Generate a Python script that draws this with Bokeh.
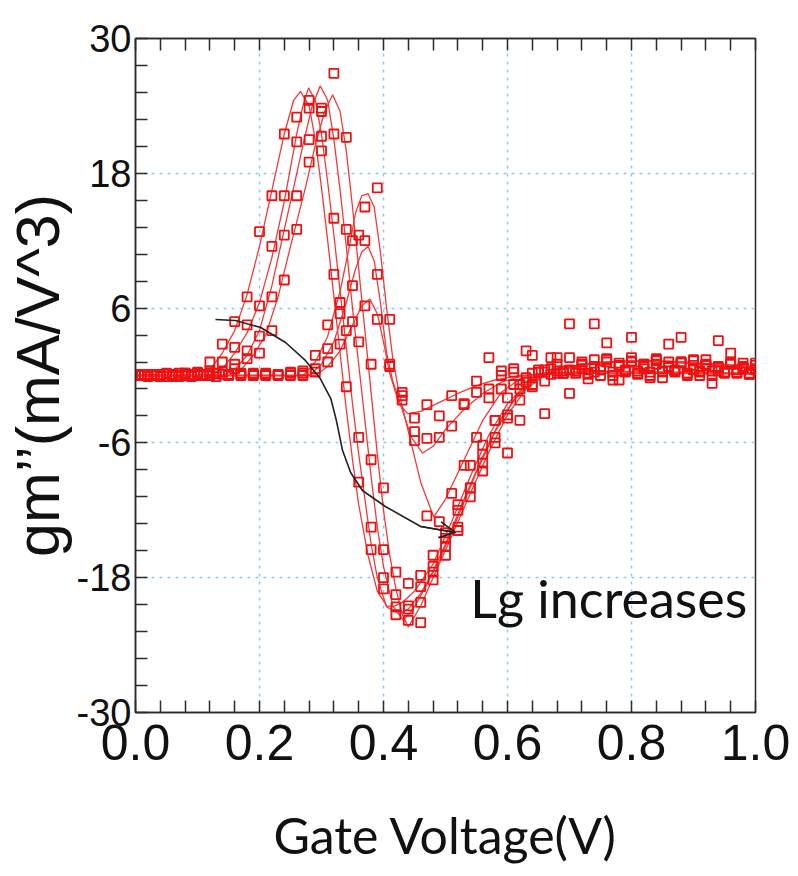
from bokeh.plotting import figure
from bokeh.models import FixedTicker, LinearAxis, PrintfTickFormatter, Arrow, OpenHead, Label
from bokeh.embed import file_html
from bokeh.resources import INLINE

# ---------------- axes / ticks ----------------
X_TICKS = [0.0, 0.2, 0.4, 0.6, 0.8, 1.0]
Y_TICKS = [-30, -18, -6, 6, 18, 30]
X_GRID = [0.2, 0.4, 0.6, 0.8]
Y_GRID = [-18, -6, 6, 18]
X_LABEL = "Gate Voltage(V)"
Y_LABEL = "gm\u2019\u2019(mA/V^3)"
NOTE = "Lg increases"

# ---------------- simulated curves (lines) ----------------
A1_X = [0.00, 0.10, 0.12, 0.14, 0.16, 0.18, 0.20, 0.22, 0.24, 0.255, 0.266, 0.28, 0.29, 0.30, 0.31, 0.32, 0.33, 0.34, 0.35, 0.36, 0.375, 0.39, 0.405, 0.415, 0.43, 0.45, 0.48, 0.51, 0.54, 0.57, 0.60, 0.63, 0.66, 0.70, 0.78, 0.86, 0.94, 1.00]
A1_Y = [0.0, 0.0, 0.5, 2.0, 4.0, 7.2, 11.5, 16.5, 21.5, 24.5, 25.3, 24.0, 21.0, 16.7, 12.0, 7.0, 2.0, -3.0, -7.5, -11.5, -16.0, -19.2, -20.5, -20.6, -20.2, -19.2, -16.8, -13.0, -9.0, -5.3, -2.5, -0.8, 0.2, 0.8, 1.3, 1.3, 1.0, 0.8]

A2_X = [0.00, 0.12, 0.14, 0.16, 0.18, 0.20, 0.22, 0.24, 0.26, 0.27, 0.279, 0.29, 0.30, 0.31, 0.32, 0.33, 0.34, 0.35, 0.36, 0.37, 0.38, 0.39, 0.405, 0.425, 0.44, 0.46, 0.49, 0.52, 0.55, 0.58, 0.61, 0.64, 0.67, 0.72, 0.80, 0.88, 0.95, 1.00]
A2_Y = [0.0, 0.0, 0.6, 2.0, 3.8, 6.5, 10.5, 15.5, 21.5, 24.0, 25.6, 24.5, 21.5, 17.2, 12.5, 7.5, 2.5, -2.5, -7.0, -11.0, -15.0, -18.0, -20.6, -21.2, -20.8, -19.4, -16.5, -12.6, -8.6, -5.0, -2.2, -0.6, 0.3, 1.0, 1.3, 1.2, 0.9, 0.7]

A3_X = [0.00, 0.14, 0.16, 0.18, 0.20, 0.22, 0.24, 0.255, 0.27, 0.285, 0.298, 0.31, 0.32, 0.33, 0.34, 0.35, 0.36, 0.37, 0.38, 0.39, 0.40, 0.415, 0.432, 0.45, 0.47, 0.50, 0.53, 0.56, 0.59, 0.62, 0.65, 0.68, 0.74, 0.82, 0.90, 0.96, 1.00]
A3_Y = [0.0, 0.0, 0.5, 1.8, 4.0, 8.0, 13.0, 16.7, 20.5, 24.0, 25.8, 24.5, 21.0, 16.5, 11.5, 6.0, 1.0, -4.0, -9.0, -13.5, -17.0, -20.5, -21.8, -20.6, -18.6, -15.0, -11.0, -7.2, -3.8, -1.5, -0.2, 0.5, 1.1, 1.3, 1.1, 0.8, 0.6]

A4_X = [0.00, 0.15, 0.17, 0.19, 0.21, 0.23, 0.25, 0.274, 0.29, 0.305, 0.318, 0.33, 0.34, 0.35, 0.36, 0.37, 0.38, 0.39, 0.40, 0.41, 0.42, 0.43, 0.44, 0.46, 0.48, 0.51, 0.54, 0.57, 0.60, 0.63, 0.66, 0.69, 0.75, 0.83, 0.91, 0.97, 1.00]
A4_Y = [0.0, 0.0, 0.5, 1.8, 3.6, 7.0, 11.5, 16.7, 20.5, 23.5, 25.0, 23.5, 20.0, 15.0, 9.5, 4.0, -1.5, -7.0, -12.0, -16.0, -19.0, -21.2, -22.4, -20.5, -18.0, -14.3, -10.5, -6.8, -3.5, -1.2, 0.0, 0.6, 1.2, 1.3, 1.0, 0.8, 0.6]

B1_X = [0.00, 0.27, 0.29, 0.31, 0.33, 0.345, 0.355, 0.365, 0.375, 0.385, 0.395, 0.405, 0.415, 0.425, 0.44, 0.46, 0.481, 0.50, 0.53, 0.56, 0.59, 0.62, 0.66, 0.75, 0.85, 1.00]
B1_Y = [0.0, 0.0, 1.2, 3.5, 7.5, 11.5, 14.5, 16.0, 16.2, 15.0, 11.0, 6.0, 1.5, -1.5, -5.0, -9.5, -12.6, -11.0, -7.5, -4.0, -1.5, -0.3, 0.2, 0.4, 0.3, 0.2]

B2_X = [0.00, 0.28, 0.30, 0.32, 0.34, 0.355, 0.365, 0.375, 0.385, 0.395, 0.405, 0.415, 0.43, 0.445, 0.463, 0.48, 0.50, 0.53, 0.56, 0.59, 0.62, 0.66, 0.75, 0.85, 1.00]
B2_Y = [0.0, 0.0, 1.0, 3.0, 6.5, 9.5, 11.0, 11.5, 10.2, 6.5, 2.0, -0.5, -3.0, -5.5, -6.9, -6.3, -4.8, -3.0, -1.6, -0.6, -0.1, 0.2, 0.3, 0.3, 0.2]

B3_X = [0.00, 0.29, 0.31, 0.33, 0.35, 0.365, 0.378, 0.39, 0.40, 0.41, 0.425, 0.439, 0.46, 0.49, 0.52, 0.55, 0.58, 0.62, 0.70, 0.85, 1.00]
B3_Y = [0.0, 0.0, 0.8, 2.2, 4.5, 6.2, 6.8, 5.5, 3.0, 0.2, -2.5, -3.4, -3.2, -2.4, -1.6, -0.9, -0.4, 0.0, 0.2, 0.2, 0.1]

# ---------------- measured data (squares) ----------------
MA_X = [0.00, 0.02, 0.04, 0.06, 0.08, 0.10, 0.12, 0.14, 0.16, 0.18,
        0.20, 0.22, 0.24, 0.26, 0.28, 0.30, 0.32, 0.34, 0.36, 0.38,
        0.40, 0.42, 0.44, 0.46, 0.48, 0.50, 0.52, 0.54, 0.56, 0.58,
        0.60, 0.62, 0.64, 0.66, 0.68, 0.70, 0.72, 0.74, 0.76, 0.78,
        0.80, 0.82, 0.84, 0.86, 0.88, 0.90, 0.92, 0.94, 0.96, 0.98,
        1.00]
MA1_Y = [0.0, 0.1, -0.1, 0.0, 0.2, 0.3, 1.2, 2.8, 4.8, 7.0,
         12.8, 16.0, 21.5, 23.0, 24.5, 20.0, 9.0, -1.0, -9.5, -15.5,
         -19.0, -20.6, -18.5, -17.8, -16.0, -15.2, -12.0, -8.0, -6.2, -4.0,
         -2.0, -0.8, 0.2, -0.5, 1.6, 0.5, 1.0, 0.3, 1.5, 0.8,
         1.2, 0.6, 1.4, 0.7, 1.1, 0.5, 1.0, 0.4, 1.2, 0.6,
         0.9]
MA2_Y = [0.0, -0.1, 0.1, 0.0, 0.2, 0.1, 0.4, 1.2, 2.5, 4.5,
         6.2, 11.5, 16.0, 20.8, 23.8, 23.5, 14.0, 4.0, -5.5, -13.5,
         -18.0, -21.3, -21.8, -18.8, -18.2, -16.0, -13.5, -10.8, -8.5, -5.5,
         -3.5, -1.2, -0.8, 0.3, 1.0, 4.6, 0.6, 1.4, 1.2, 0.9,
         1.6, 1.0, 1.3, 0.8, 1.2, 1.4, 0.9, 3.1, 1.0, 0.7,
         1.1]
MA3_Y = [0.1, 0.0, -0.1, 0.1, 0.0, 0.2, 0.0, 0.3, 1.0, 2.2,
         3.5, 7.0, 12.5, 16.0, 21.0, 23.8, 21.5, 13.0, 3.0, -7.5,
         -15.5, -19.5, -20.8, -20.2, -17.0, -14.0, -11.5, -10.0, -7.0, -4.0,
         -6.9, -4.0, 1.8, -3.4, 0.4, -1.6, 1.2, 0.8, 2.9, -0.4,
         3.4, 1.0, 1.5, 2.8, 1.2, 0.9, 1.4, 0.8, 2.0, 1.1,
         0.6]
MA4_Y = [0.0, 0.1, 0.0, -0.1, 0.1, 0.0, 0.2, 0.1, 0.6, 1.5,
         2.0, 4.0, 8.5, 13.0, 19.0, 21.3, 26.9, 21.2, 12.5, 1.0,
         -10.0, -17.5, -20.5, -22.0, -17.5, -14.5, -13.8, -10.0, -7.8, -6.0,
         -3.8, -2.2, -1.0, 0.5, 0.2, 1.6, 0.9, 4.6, 1.4, 1.1,
         1.3, 0.8, 1.0, 1.2, 3.4, 1.3, 0.9, 0.7, 1.1, 0.8,
         0.5]

MB_X = [0.01, 0.03, 0.05, 0.07, 0.09, 0.11, 0.13, 0.15, 0.17, 0.19,
        0.21, 0.23, 0.25, 0.27, 0.29, 0.31, 0.33, 0.35, 0.37, 0.39,
        0.41, 0.43, 0.45, 0.47, 0.49, 0.51, 0.53, 0.55, 0.57, 0.59,
        0.61, 0.63, 0.65, 0.67, 0.69, 0.71, 0.73, 0.75, 0.77, 0.79,
        0.81, 0.83, 0.85, 0.87, 0.89, 0.91, 0.93, 0.95, 0.97, 0.99]
MB1_Y = [0.1, 0.0, 0.2, -0.1, 0.1, 0.0, 0.2, 0.1, 0.0, 0.2,
         0.1, 0.0, 0.2, 0.4, 1.8, 4.5, 6.5, 12.0, 15.0, 16.7,
         5.0, -1.5, -5.8, -12.5, -13.0, -10.5, -8.0, -5.5, 1.6, -1.2,
         0.3, -0.6, 0.5, 0.1, 0.4, 0.2, -0.3, 0.5, 0.0, 0.4,
         0.2, -0.2, 0.4, 0.3, 0.0, 0.4, -0.7, 0.3, 0.2, 0.1]
MB2_Y = [0.0, 0.1, -0.1, 0.2, 0.0, 0.1, -0.1, 0.0, 0.2, 0.1,
         0.0, 0.1, 0.3, 0.0, 0.6, 2.4, 5.5, 8.0, 12.0, 9.0,
         0.8, -2.2, -5.0, -5.6, -5.5, -4.5, -2.5, -1.5, -2.0, 0.4,
         -0.8, 2.2, 0.3, 1.6, 0.2, 0.4, 0.1, 0.5, -0.4, 0.3,
         0.4, 0.0, 0.3, 0.5, 0.2, 0.0, 0.4, 0.2, 0.3, 0.1]
MB3_Y = [0.1, 0.0, 0.1, 0.0, -0.1, 0.1, 0.2, 0.0, 0.1, 0.0,
         0.2, 0.1, 0.0, 0.2, 0.3, 1.2, 2.8, 4.8, 6.2, 5.0,
         1.0, -1.8, -3.8, -2.6, -3.6, -1.8, -2.6, -0.5, -1.2, 0.0,
         0.6, -0.2, 0.3, 0.6, 0.2, 0.4, 0.2, 0.0, 0.3, 0.5,
         0.1, 0.3, -0.2, 0.4, 0.2, 0.3, 0.0, 0.3, 0.5, 0.2]

# ---------------- "Lg increases" arrow path ----------------
ARROW_X = [0.129, 0.161, 0.202, 0.242, 0.274, 0.298, 0.315, 0.324, 0.334, 0.347, 0.366, 0.403, 0.460, 0.516]
ARROW_Y = [4.99, 4.90, 4.27, 2.94, 1.34, -0.27, -2.05, -4.01, -6.68, -8.63, -10.24, -11.66, -13.44, -13.97]
NOTE_X, NOTE_Y = 0.54, -19.85

LINE_RED = "#f23a3a"
MARK_RED = "#ee1111"
AXIS_C = "#2b2b2b"
GRID_C = "#8ccaf0"

p = figure(width=798, height=876, x_range=(0, 1), y_range=(-30, 30),
           output_backend="svg", toolbar_location=None,
           x_axis_location=None, y_axis_location=None,
           min_border_left=135, min_border_right=43,
           min_border_top=38, min_border_bottom=164)
p.background_fill_color = "white"
p.border_fill_color = "white"
p.outline_line_color = AXIS_C
p.outline_line_width = 1.5

x_minor = [round(0.04 * i, 2) for i in range(26) if i % 5]
y_minor = [round(-30 + 2.4 * i, 2) for i in range(26) if i % 5]
x_all = [round(0.04 * i, 2) for i in range(26)]


def style_axis(ax):
    ax.axis_line_color = AXIS_C
    ax.axis_line_width = 1.5
    ax.major_tick_line_color = AXIS_C
    ax.minor_tick_line_color = AXIS_C
    ax.major_tick_line_width = 1.5
    ax.minor_tick_line_width = 1.5
    ax.major_tick_in = 12
    ax.major_tick_out = 0
    ax.minor_tick_in = 12
    ax.minor_tick_out = 0
    ax.major_label_text_font = "Liberation Sans"
    ax.major_label_text_color = "#111111"


xb = LinearAxis(ticker=FixedTicker(ticks=X_TICKS, minor_ticks=x_minor),
                formatter=PrintfTickFormatter(format="%.1f"))
style_axis(xb)
xb.major_label_text_font_size = "50px"
xb.major_label_standoff = 12
xb.axis_label = X_LABEL
xb.axis_label_text_font = "Lato"
xb.axis_label_text_font_style = "normal"
xb.axis_label_text_font_size = "50px"
xb.axis_label_text_color = "#111111"
xb.axis_label_standoff = 42
p.add_layout(xb, "below")

# top frame ticks only (drawn as minor ticks so that no labels are produced)
xt = LinearAxis(ticker=FixedTicker(ticks=[], minor_ticks=x_all))
style_axis(xt)
xt.major_label_standoff = 0
p.add_layout(xt, "above")

yl = LinearAxis(ticker=FixedTicker(ticks=Y_TICKS, minor_ticks=y_minor),
                formatter=PrintfTickFormatter(format="%d"))
style_axis(yl)
yl.major_label_text_font_size = "38px"
yl.major_label_standoff = 4
yl.axis_label = Y_LABEL
yl.axis_label_text_font = "Liberation Sans"
yl.axis_label_text_font_style = "normal"
yl.axis_label_text_font_size = "61px"
yl.axis_label_text_color = "#111111"
yl.axis_label_standoff = 2
p.add_layout(yl, "left")

p.xgrid.ticker = FixedTicker(ticks=X_GRID)
p.ygrid.ticker = FixedTicker(ticks=Y_GRID)
for g in (p.xgrid, p.ygrid):
    g.grid_line_color = GRID_C
    g.grid_line_dash = "3 5"
    g.grid_line_width = 1.5

curves = [(A1_X, A1_Y), (A2_X, A2_Y), (A3_X, A3_Y), (A4_X, A4_Y),
          (B1_X, B1_Y), (B2_X, B2_Y), (B3_X, B3_Y)]
for cx, cy in curves:
    p.line(cx, cy, line_color=LINE_RED, line_width=1.3)

measured = [(MA_X, MA1_Y), (MA_X, MA2_Y), (MA_X, MA3_Y), (MA_X, MA4_Y),
            (MB_X, MB1_Y), (MB_X, MB2_Y), (MB_X, MB3_Y)]
for mx, my in measured:
    p.scatter(mx, my, marker="square", size=9, fill_color=None,
              line_color=MARK_RED, line_width=1.8)

p.line(ARROW_X, ARROW_Y, line_color="#222222", line_width=1.6)
p.add_layout(Arrow(end=OpenHead(size=16, line_color="#222222", line_width=1.6),
                   x_start=ARROW_X[-2], y_start=ARROW_Y[-2],
                   x_end=ARROW_X[-1], y_end=ARROW_Y[-1],
                   line_color="#222222", line_width=1.6))

p.add_layout(Label(x=NOTE_X, y=NOTE_Y, text=NOTE, text_font="Lato",
                   text_font_size="52px", text_color="#111111",
                   text_baseline="middle", text_align="left"))

open("out.html", "w").write(file_html(p, INLINE))
